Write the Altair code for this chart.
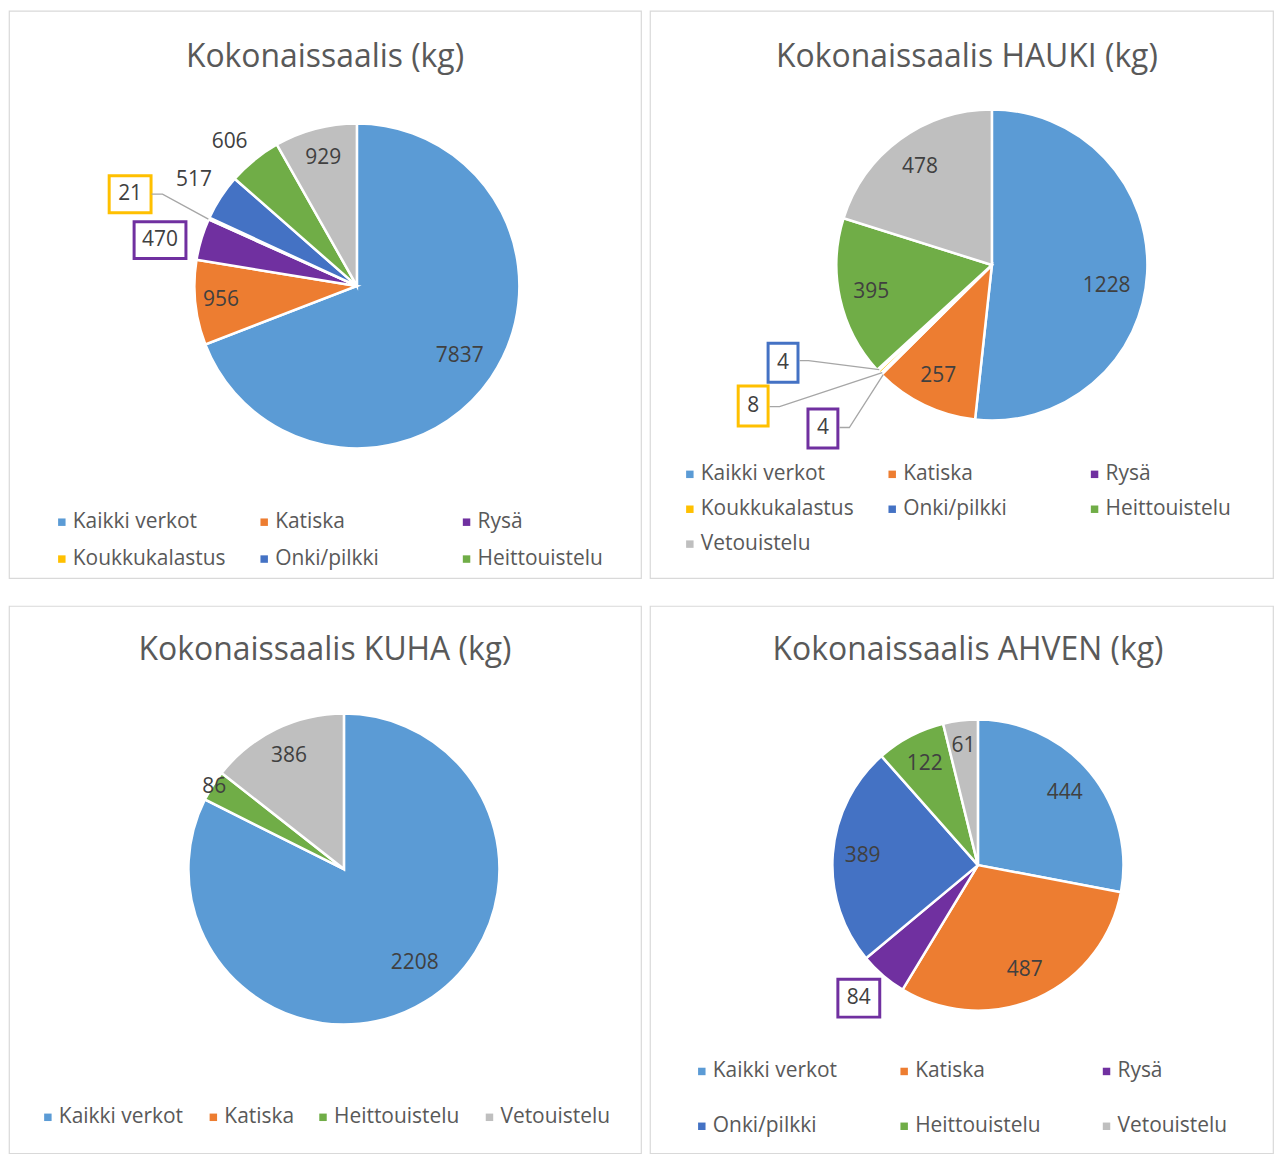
import math
import altair as alt
import pandas as pd

# ---------------- data ----------------
CATS = ["Kaikki verkot", "Katiska", "Rysä", "Koukkukalastus", "Onki/pilkki", "Heittouistelu", "Vetouistelu"]
COLORS = ["#5B9BD5", "#ED7D31", "#7030A0", "#FFC000", "#4472C4", "#70AD47", "#BFBFBF"]

TITLES = ["Kokonaissaalis (kg)", "Kokonaissaalis HAUKI (kg)",
          "Kokonaissaalis KUHA (kg)", "Kokonaissaalis AHVEN (kg)"]

TOTAL_CATS = ["Kaikki verkot", "Katiska", "Rysä", "Koukkukalastus", "Onki/pilkki", "Heittouistelu", "Vetouistelu"]
TOTAL_VALUES = [7837, 956, 470, 21, 517, 606, 929]
TOTAL_LEGEND = ["Kaikki verkot", "Katiska", "Rysä", "Koukkukalastus", "Onki/pilkki", "Heittouistelu"]

HAUKI_CATS = ["Kaikki verkot", "Katiska", "Rysä", "Koukkukalastus", "Onki/pilkki", "Heittouistelu", "Vetouistelu"]
HAUKI_VALUES = [1228, 257, 4, 8, 4, 395, 478]
HAUKI_LEGEND = ["Kaikki verkot", "Katiska", "Rysä", "Koukkukalastus", "Onki/pilkki", "Heittouistelu", "Vetouistelu"]

KUHA_CATS = ["Kaikki verkot", "Katiska", "Heittouistelu", "Vetouistelu"]
KUHA_VALUES = [2208, 0, 86, 386]
KUHA_LEGEND = ["Kaikki verkot", "Katiska", "Heittouistelu", "Vetouistelu"]

AHVEN_CATS = ["Kaikki verkot", "Katiska", "Rysä", "Onki/pilkki", "Heittouistelu", "Vetouistelu"]
AHVEN_VALUES = [444, 487, 84, 389, 122, 61]
AHVEN_LEGEND = ["Kaikki verkot", "Katiska", "Rysä", "Onki/pilkki", "Heittouistelu", "Vetouistelu"]

# ---------------- layout / style (page pixel coordinates) ----------------
FONT = "Open Sans"
LABEL_COLOR = "#404040"
TEXT_COLOR = "#595959"
BORDER = "#D9D9D9"
LEADER = "#A6A6A6"
TITLE_SIZE = 32
LABEL_SIZE = 21
LEGEND_SIZE = 21

PANELS = [
    dict(title=TITLES[0], cats=TOTAL_CATS, values=TOTAL_VALUES, legend=TOTAL_LEGEND,
         origin=(8, 8), size=(634, 569), center=(357, 284), r=163, title_xy=(325, 64),
         labels={"Kaikki verkot": (125, 0), "Katiska": (137, 0), "Onki/pilkki": (195, 0),
                 "Heittouistelu": (193, -2.3), "Vetouistelu": (133, 0)},
         boxes={"Rysä": (133.5, 219.5, 185.5, 256.5), "Koukkukalastus": (108.5, 173.5, 150.5, 210.5)},
         leaders={"Koukkukalastus": [(151, 192), (162, 192), (208, 217)]},
         lxs=[61, 264, 467], lys=[521, 558]),
    dict(title=TITLES[1], cats=HAUKI_CATS, values=HAUKI_VALUES, legend=HAUKI_LEGEND,
         origin=(649, 8), size=(625, 569), center=(992, 263), r=156, title_xy=(967, 64),
         labels={"Kaikki verkot": (117, 7.2), "Katiska": (124, 0), "Heittouistelu": (124, 0),
                 "Vetouistelu": (122, 0)},
         boxes={"Onki/pilkki": (767.5, 341.5, 797.5, 380.5), "Koukkukalastus": (737.5, 384.5, 767.5, 424.5),
                "Rysä": (807.5, 407.5, 837.5, 446.5)},
         leaders={"Onki/pilkki": [(799, 359), (808, 359), (879, 368)],
                  "Koukkukalastus": [(769, 405), (779, 405), (882, 371)],
                  "Rysä": [(839, 426), (849, 426), (883, 373)]},
         lxs=[689, 892, 1095], lys=[473, 508, 543]),
    dict(title=TITLES[2], cats=KUHA_CATS, values=KUHA_VALUES, legend=KUHA_LEGEND,
         origin=(8, 603), size=(634, 549), center=(344, 867), r=156, title_xy=(325, 657),
         labels={"Kaikki verkot": (118, -5.3), "Heittouistelu": (154, 0), "Vetouistelu": (126, 0)},
         boxes={}, leaders={},
         lxs=[47, 213, 323, 490], lys=[1116]),
    dict(title=TITLES[3], cats=AHVEN_CATS, values=AHVEN_VALUES, legend=AHVEN_LEGEND,
         origin=(649, 603), size=(625, 549), center=(978, 863), r=146, title_xy=(968, 657),
         labels={"Kaikki verkot": (113, 0), "Katiska": (115, 0), "Onki/pilkki": (116, 0),
                 "Heittouistelu": (115, 0), "Vetouistelu": (120, 0)},
         boxes={"Rysä": (837.5, 977.5, 879.5, 1015.5)}, leaders={},
         lxs=[701, 904, 1107], lys=[1070, 1125]),
]


def make_panel(p):
    ox, oy = p["origin"]
    w, h = p["size"]
    cx, cy = p["center"][0] - ox, p["center"][1] - oy
    xsc = alt.Scale(domain=[0, w], range=[0, w], nice=False, zero=False)
    ysc = alt.Scale(domain=[0, h], range=[0, h], nice=False, zero=False)
    csc = alt.Scale(domain=CATS, range=COLORS)

    df = pd.DataFrame({"cat": p["cats"], "value": p["values"], "idx": list(range(len(p["cats"])))})
    df["label"] = [str(v) for v in p["values"]]

    base = alt.Chart(df).encode(
        theta=alt.Theta("value:Q", stack=True),
        order=alt.Order("idx:Q"),
    )
    layers = [
        base.mark_arc(outerRadius=p["r"], stroke="white", strokeWidth=2.5).encode(
            color=alt.Color("cat:N", scale=csc, legend=None),
            x=alt.value(cx), y=alt.value(cy),
        )
    ]
    for cat, (rad, off) in p["labels"].items():
        layers.append(
            base.transform_calculate(t=f"datum.cat === '{cat}' ? datum.label : ''")
            .mark_text(radius=rad, thetaOffset=math.radians(off), font=FONT,
                       fontSize=LABEL_SIZE, color=LABEL_COLOR)
            .encode(text="t:N", x=alt.value(cx), y=alt.value(cy))
        )

    # callout boxes
    if p["boxes"]:
        vals = dict(zip(p["cats"], p["values"]))
        bdf = pd.DataFrame([
            {"cat": c, "x0": b[0] - ox, "y0": b[1] - oy, "x1": b[2] - ox, "y1": b[3] - oy,
             "xm": (b[0] + b[2]) / 2 - ox, "ym": (b[1] + b[3]) / 2 - oy, "label": str(vals[c])}
            for c, b in p["boxes"].items()
        ])
        layers.append(
            alt.Chart(bdf).mark_rect(fill="white", strokeWidth=3).encode(
                x=alt.X("x0:Q", scale=xsc, axis=None), x2="x1:Q",
                y=alt.Y("y0:Q", scale=ysc, axis=None), y2="y1:Q",
                stroke=alt.Stroke("cat:N", scale=csc, legend=None),
            )
        )
        layers.append(
            alt.Chart(bdf).mark_text(font=FONT, fontSize=LABEL_SIZE, color=LABEL_COLOR).encode(
                x=alt.X("xm:Q", scale=xsc, axis=None), y=alt.Y("ym:Q", scale=ysc, axis=None),
                text="label:N",
            )
        )
    if p["leaders"]:
        rows = []
        for c, pts in p["leaders"].items():
            for k, (px, py) in enumerate(pts):
                rows.append({"seg": c, "k": k, "px": px - ox, "py": py - oy})
        ldf = pd.DataFrame(rows)
        layers.append(
            alt.Chart(ldf).mark_line(color=LEADER, strokeWidth=1.3).encode(
                x=alt.X("px:Q", scale=xsc, axis=None), y=alt.Y("py:Q", scale=ysc, axis=None),
                detail="seg:N", order="k:Q",
            )
        )

    # legend
    ncol = len(p["lxs"])
    leg = pd.DataFrame({"cat": p["legend"]})
    leg["lx"] = [p["lxs"][i % ncol] - ox for i in range(len(leg))]
    leg["ly"] = [p["lys"][i // ncol] - oy for i in range(len(leg))]
    leg["tx"] = leg["lx"] + 11
    layers.append(
        alt.Chart(leg).mark_square(size=56, opacity=1).encode(
            x=alt.X("lx:Q", scale=xsc, axis=None), y=alt.Y("ly:Q", scale=ysc, axis=None),
            color=alt.Color("cat:N", scale=csc, legend=None),
        )
    )
    layers.append(
        alt.Chart(leg).mark_text(align="left", baseline="middle", font=FONT,
                                 fontSize=LEGEND_SIZE, color=TEXT_COLOR).encode(
            x=alt.X("tx:Q", scale=xsc, axis=None), y=alt.Y("ly:Q", scale=ysc, axis=None),
            text="cat:N",
        )
    )

    # title
    tdf = pd.DataFrame({"title": [p["title"]], "tx": [p["title_xy"][0] - ox], "ty": [p["title_xy"][1] - oy]})
    layers.append(
        alt.Chart(tdf).mark_text(align="center", baseline="alphabetic", font=FONT,
                                 fontSize=TITLE_SIZE, color=TEXT_COLOR).encode(
            x=alt.X("tx:Q", scale=xsc, axis=None), y=alt.Y("ty:Q", scale=ysc, axis=None),
            text="title:N",
        )
    )
    return alt.layer(*layers).properties(width=w, height=h)


panels = [make_panel(p) for p in PANELS]
res = dict(x="independent", y="independent", theta="independent", radius="independent")
row1 = alt.hconcat(panels[0], panels[1], spacing=7).resolve_scale(**res)
row2 = alt.hconcat(panels[2], panels[3], spacing=7).resolve_scale(**res)
chart = (
    alt.vconcat(row1, row2, spacing=26)
    .resolve_scale(**res)
    .properties(padding=0, background="white")
    .configure_view(stroke=BORDER, strokeWidth=1.2)
)

chart.save("out.html", embed_options={"renderer": "svg", "actions": False})
